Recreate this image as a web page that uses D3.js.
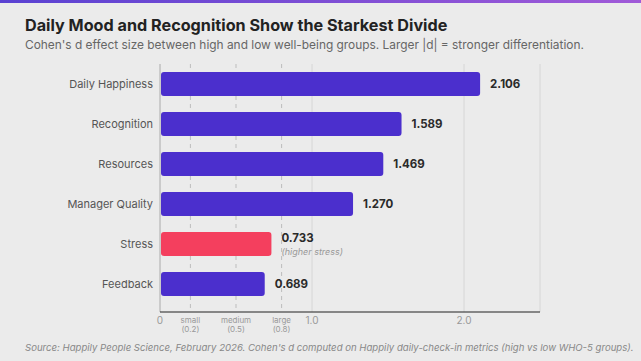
<!DOCTYPE html>
<html>
<head>
<meta charset="utf-8">
<script src="https://cdn.jsdelivr.net/npm/d3@7"></script>
<style>
  body { margin: 0; background: #ebebeb; }
  svg { display: block; font-family: Inter, "Noto Sans", sans-serif; }
  .title { font-size: 16.2px; font-weight: 700; fill: #222; }
  .subtitle { font-size: 11.9px; fill: #666; }
  .source { font-size: 9.6px; fill: #888; font-style: italic; }
  .cat { font-size: 11px; fill: #555; }
  .val { font-size: 11.5px; font-weight: 700; fill: #2a2a2a; }
  .note { font-size: 9px; fill: #999; font-style: italic; }
  .tick { font-size: 10px; fill: #999; }
  .thr { font-size: 8px; fill: #999; }
</style>
</head>
<body>
<svg width="641" height="361"></svg>
<script>
var categories = ["Daily Happiness", "Recognition", "Resources", "Manager Quality", "Stress", "Feedback"];
var values = [2.106, 1.589, 1.469, 1.270, 0.733, 0.689];
var notes = ["", "", "", "", "(higher stress)", ""];
var highlight = ["Stress"];
var gridTicks = [1.0, 2.0, 2.5];
var axisTicks = [0, 1.0, 2.0];
var thresholds = [{name: "small", v: 0.2}, {name: "medium", v: 0.5}, {name: "large", v: 0.8}];

var svg = d3.select("svg"),
    margin = {top: 64, right: 101, bottom: 49, left: 160},
    W = 641, H = 361,
    width = W - margin.left - margin.right,
    height = H - margin.top - margin.bottom;

var defs = svg.append("defs");
var grad = defs.append("linearGradient").attr("id", "topbar");
grad.append("stop").attr("offset", "0%").attr("stop-color", "#5a42d2");
grad.append("stop").attr("offset", "100%").attr("stop-color", "#a05ad8");
svg.append("rect").attr("x", 0).attr("y", 0).attr("width", W).attr("height", 3).attr("fill", "url(#topbar)");

svg.append("text").attr("class", "title").attr("x", 25).attr("y", 31)
    .text("Daily Mood and Recognition Show the Starkest Divide");
svg.append("text").attr("class", "subtitle").attr("x", 25).attr("y", 49)
    .text("Cohen's d effect size between high and low well-being groups. Larger |d| = stronger differentiation.");

var x = d3.scaleLinear().domain([0, 2.5]).range([0, width]);
var y = d3.scaleBand().domain(categories).range([0, 240]).paddingInner(0.4).paddingOuter(0.2);

var g = svg.append("g").attr("transform", "translate(" + margin.left + "," + margin.top + ")");

// grid
g.selectAll(".grid").data(gridTicks).enter().append("line")
    .attr("x1", d => x(d)).attr("x2", d => x(d))
    .attr("y1", 0).attr("y2", height)
    .attr("stroke", "#d6d6d6").attr("stroke-width", 1);

// threshold lines
g.selectAll(".thr-line").data(thresholds).enter().append("line")
    .attr("x1", d => x(d.v)).attr("x2", d => x(d.v))
    .attr("y1", 0).attr("y2", height)
    .attr("stroke", "#bdbdbd").attr("stroke-width", 1)
    .attr("stroke-dasharray", "4,4");

// bars
g.selectAll(".bar").data(categories).enter().append("rect")
    .attr("x", x(0) + 1)
    .attr("y", d => y(d))
    .attr("width", (d, i) => x(values[i]) - x(0) - 1)
    .attr("height", y.bandwidth())
    .attr("rx", 3)
    .attr("fill", d => highlight.indexOf(d) >= 0 ? "#f43f5e" : "#4b2fcd");

// value labels
g.selectAll(".val").data(categories).enter().append("text")
    .attr("class", "val")
    .attr("x", (d, i) => x(values[i]) + 10)
    .attr("y", d => y(d) + y.bandwidth() / 2 + (notes[categories.indexOf(d)] ? -2 : 4))
    .text((d, i) => values[i].toFixed(3));

g.selectAll(".note").data(categories.filter((d, i) => notes[i])).enter().append("text")
    .attr("class", "note")
    .attr("x", d => x(values[categories.indexOf(d)]) + 10)
    .attr("y", d => y(d) + y.bandwidth() / 2 + 11)
    .text(d => notes[categories.indexOf(d)]);

// category labels
g.selectAll(".cat").data(categories).enter().append("text")
    .attr("class", "cat")
    .attr("x", -7)
    .attr("y", d => y(d) + y.bandwidth() / 2 + 4)
    .attr("text-anchor", "end")
    .text(d => d);

// axes lines
g.append("line").attr("x1", 0).attr("x2", 0).attr("y1", 0).attr("y2", height)
    .attr("stroke", "#aaa").attr("stroke-width", 1);
g.append("line").attr("x1", 0).attr("x2", width).attr("y1", height).attr("y2", height)
    .attr("stroke", "#222").attr("stroke-width", 1.2);

g.selectAll(".tick").data(axisTicks).enter().append("text")
    .attr("class", "tick")
    .attr("x", d => x(d))
    .attr("y", height + 12)
    .attr("text-anchor", "middle")
    .text(d => d === 0 ? "0" : d.toFixed(1));

var thr = g.selectAll(".thr").data(thresholds).enter().append("text")
    .attr("class", "thr")
    .attr("text-anchor", "middle");
thr.append("tspan").attr("x", d => x(d.v)).attr("y", height + 11).text(d => d.name);
thr.append("tspan").attr("x", d => x(d.v)).attr("y", height + 20).text(d => "(" + d.v + ")");

svg.append("text").attr("class", "source").attr("x", 25).attr("y", 351)
    .text("Source: Happily People Science, February 2026. Cohen's d computed on Happily daily-check-in metrics (high vs low WHO-5 groups).");
</script>
</body>
</html>
